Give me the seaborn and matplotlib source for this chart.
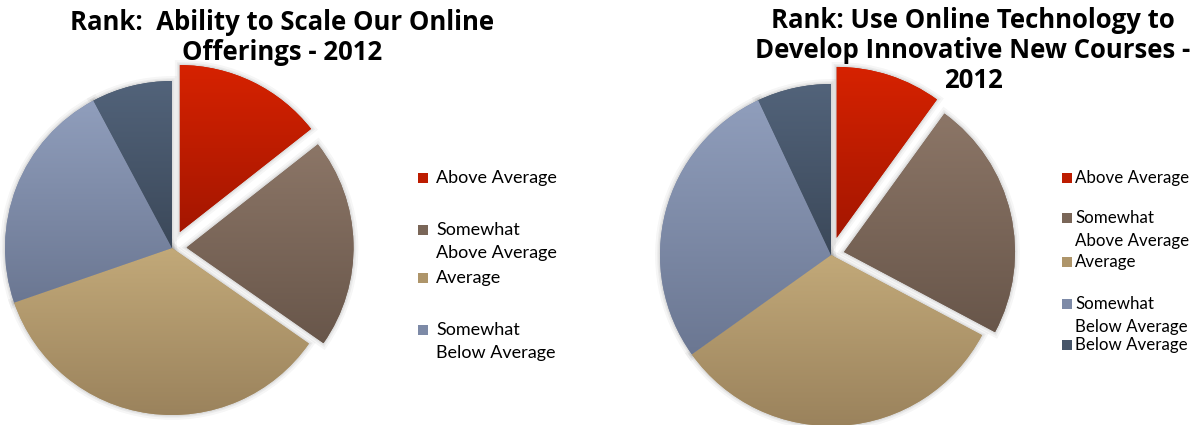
import numpy as np
import matplotlib
matplotlib.use("Agg")
import matplotlib.pyplot as plt
import matplotlib.patheffects as pe
from matplotlib.patches import Rectangle
import seaborn as sns

# data (percent of respondents)
categories = ["Above Average", "Somewhat\nAbove Average", "Average",
              "Somewhat\nBelow Average", "Below Average"]
scale_share = [14.4, 20.3, 35.0, 22.5, 7.8]
innov_share = [10.0, 22.8, 32.4, 27.9, 7.0]
scale_title = "Rank:  Ability to Scale Our Online\nOfferings - 2012"
innov_title = "Rank: Use Online Technology to\nDevelop Innovative New Courses -\n2012"

# colours (top / bottom of the gradient)
tops = ["#d62200", "#8c7667", "#c2a979", "#909ebc", "#52637a"]
bots = ["#a41600", "#68564a", "#9a825c", "#6b7792", "#3b4859"]

sns.set_theme(style="white")
plt.rcParams["font.family"] = ["Lato", "DejaVu Sans"]

W, H = 1194, 425
fig = plt.figure(figsize=(W / 100, H / 100), dpi=100)
pal = [sns.blend_palette([t, b], 3)[1] for t, b in zip(tops, bots)]  # mid colours


def pie_axes(cx, cy, r, lim=1.3):
    return fig.add_axes([(cx - lim * r) / W, (H - cy - lim * r) / H,
                         2 * lim * r / W, 2 * lim * r / H])


def draw_pie(ax, shares, explode):
    halo = [pe.Stroke(linewidth=7, foreground="k", alpha=0.04),
            pe.Stroke(linewidth=4, foreground="k", alpha=0.05),
            pe.Stroke(linewidth=2, foreground="k", alpha=0.06), pe.Normal()]
    wedges, _ = ax.pie(shares, explode=explode, startangle=90, counterclock=False,
                       colors=pal, wedgeprops=dict(linewidth=0, path_effects=halo))
    g = np.linspace(0, 1, 256)[:, None, None]
    for w, t, b in zip(wedges, tops, bots):
        t = np.array(matplotlib.colors.to_rgb(t))
        b = np.array(matplotlib.colors.to_rgb(b))
        img = t + (b - t) * g
        v = w.get_path().vertices
        x0, y0 = v.min(axis=0)
        x1, y1 = v.max(axis=0)
        im = ax.imshow(img, extent=(x0, x1, y0, y1), origin="upper", aspect="auto",
                       interpolation="bilinear", zorder=3)
        im.set_clip_path(w)
    ax.set_xlim(-1.3, 1.3)
    ax.set_ylim(-1.3, 1.3)
    ax.set_aspect("equal")
    ax.axis("off")


def legend(x_box, x_text, ys, labels, line_gap=23, size=12.5):
    for y, lab, col in zip(ys, labels, pal):
        fig.add_artist(Rectangle(((x_box - 5) / W, (H - y - 5) / H), 10 / W, 10 / H,
                                 transform=fig.transFigure, color=col, lw=0))
        for k, line in enumerate(lab.split("\n")):
            fig.text(x_text / W, (H - y - k * line_gap) / H, line, fontsize=size,
                     ha="left", va="center", color="black")


def title(x, y0, text, gap=30, size=18.5):
    for k, line in enumerate(text.split("\n")):
        fig.text(x / W, (H - y0 - k * gap) / H, line, fontsize=size, fontweight="bold",
                 family=["Open Sans", "DejaVu Sans"],
                 ha="center", va="center", color="black")


ax1 = pie_axes(172, 248, 167)
draw_pie(ax1, scale_share, [0.106, 0.087, 0, 0, 0])
ax2 = pie_axes(831, 255, 171)
draw_pie(ax2, innov_share, [0.105, 0.078, 0, 0, 0])

title(282, 23, scale_title)
title(973, 21, innov_title)

# left legend is cut off after four entries in the original
legend(423, 436, [178, 230, 278, 330], categories[:4], size=13)
legend(1067, 1075, [178, 218, 262, 304, 345], categories, size=12.2)

fig.savefig("out.png", dpi=100)
